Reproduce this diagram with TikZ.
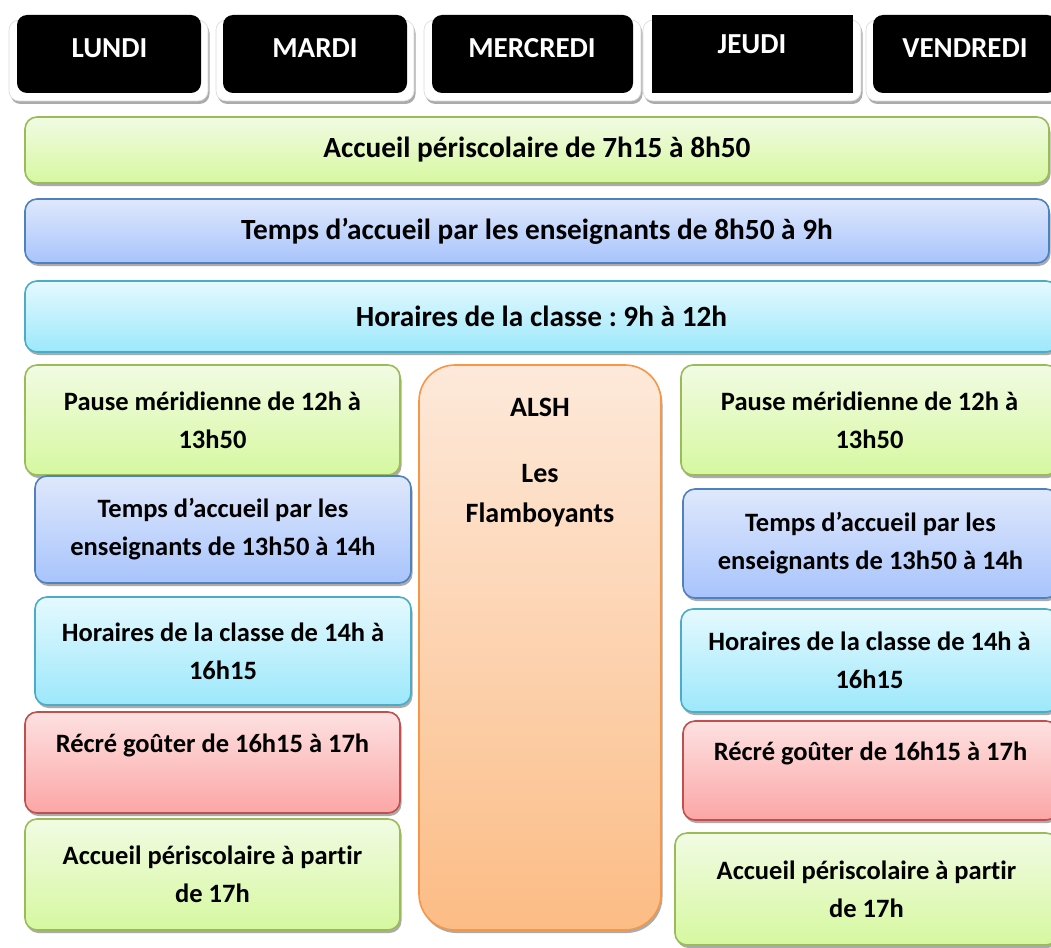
\documentclass[tikz,border=0pt]{standalone}
\usepackage{fontspec}
\setmainfont{Carlito}[Ligatures=NoCommon]
\usepackage{xcolor}
\usetikzlibrary{shadows}
\frenchspacing

\definecolor{grnline}{HTML}{9BBB59}
\definecolor{grntop}{HTML}{F1FBE3}
\definecolor{grnbot}{HTML}{D6F8A0}
\definecolor{bluline}{HTML}{4F81BD}
\definecolor{blutop}{HTML}{DFE8FC}
\definecolor{blubot}{HTML}{A8C4FC}
\definecolor{cyaline}{HTML}{4BACC6}
\definecolor{cyatop}{HTML}{E5F9FE}
\definecolor{cyabot}{HTML}{9CE8FB}
\definecolor{redline}{HTML}{C0504D}
\definecolor{redtop}{HTML}{FDE1E1}
\definecolor{redbot}{HTML}{FCA6A6}
\definecolor{orgline}{HTML}{F79646}
\definecolor{orgtop}{HTML}{FDE9DA}
\definecolor{orgbot}{HTML}{FCBC85}

\begin{document}
\begin{tikzpicture}[x=1pt,y=-1pt,
  shade/.style={drop shadow={shadow xshift=1.5pt, shadow yshift=-3pt, opacity=0.55, fill=black!60}},
  plate/.style={shade, rounded corners=10pt, fill=white, draw=black!15, line width=0.6pt, minimum height=81pt},
  daybox/.style={rounded corners=10pt, fill=black, minimum height=78pt},
  daytext/.style={text=white, font=\bfseries\fontsize{29}{34}\selectfont},
  box/.style={shade, rounded corners=12pt, line width=1.6pt, align=center, inner sep=0pt,
    font=\bfseries\fontsize{26.5}{38}\selectfont},
  bar/.style={box, font=\bfseries\fontsize{29.3}{34}\selectfont},
  green/.style={draw=grnline, top color=grntop, bottom color=grnbot},
  blue/.style={draw=bluline, top color=blutop, bottom color=blubot},
  cyan/.style={draw=cyaline, top color=cyatop, bottom color=cyabot},
  red/.style={draw=redline, top color=redtop, bottom color=redbot},
  orange/.style={draw=orgline, top color=orgtop, bottom color=orgbot}]
\useasboundingbox (0,0) rectangle (1051,947);
\clip (0,0) rectangle (1051,947);
% Days
\node[plate, minimum width=199pt] (lundiP) at (108.5,60.5) {};
\node[plate, minimum width=198pt] (mardiP) at (315,60.5) {};
\node[plate, minimum width=217pt] (mercrediP) at (532.5,60.5) {};
\node[plate, minimum width=218pt] (jeudiP) at (752,60.5) {};
\node[plate, minimum width=198pt] (vendrediP) at (965,60.5) {};
\node[daybox, minimum width=184pt] (lundi) at (109,54) {};
\node[daybox, minimum width=184pt] (mardi) at (315,54) {};
\node[daybox, minimum width=201pt] (mercredi) at (532.5,54) {};
\node[daybox, rounded corners=0pt, minimum width=201pt] (jeudi) at (752.5,54) {};
\node[daybox, minimum width=184pt] (vendredi) at (965,54) {};
\node[daytext] (lundiL) at (109.5,48) {LUNDI};
\node[daytext] (mardiL) at (315,48) {MARDI};
\node[daytext] (mercrediL) at (532,48) {MERCREDI};
\node[daytext] (jeudiL) at (752,44) {JEUDI};
\node[daytext] (vendrediL) at (965,48) {VENDREDI};
% Morning
\node[bar, green, minimum width=1024pt, minimum height=66pt] (periAM) at (537,150) {Accueil périscolaire de 7h15 à 8h50};
\node[bar, blue, minimum width=1024pt, minimum height=64pt] (accueilAM) at (537,231) {Temps d’accueil par les enseignants de 8h50 à 9h};
\node[bar, cyan, minimum width=1033pt, minimum height=71pt] (classeAM) at (541.5,316.5) {Horaires de la classe : 9h à 12h};
% Afternoon, left
\node[box, green, minimum width=375pt, minimum height=110pt] (pauseL) at (212.5,420) {Pause méridienne de 12h à\\13h50};
\node[box, blue, minimum width=376pt, minimum height=107pt] (accueilL) at (223,529.5) {Temps d’accueil par les\\enseignants de 13h50 à 14h};
\node[box, cyan, minimum width=376pt, minimum height=108pt] (classeL) at (223,651) {Horaires de la classe de 14h à\\16h15};
\node[box, red, minimum width=375pt, minimum height=101pt] (recreL) at (212.5,762.5) {Récré goûter de 16h15 à 17h\\\mbox{}};
\node[box, green, minimum width=375pt, minimum height=111pt] (periL) at (212.5,874.5) {Accueil périscolaire à partir\\de 17h};
% Wednesday
\node[box, orange, rounded corners=36pt, minimum width=242pt, minimum height=565pt] (alsh) at (540,647.5) {};
\node[font=\bfseries\fontsize{28}{40}\selectfont, align=center] (alshL) at (540,463) {ALSH\\[26pt]Les\\Flamboyants};
% Afternoon, right
\node[box, green, minimum width=377pt, minimum height=110pt] (pauseR) at (869.5,420) {Pause méridienne de 12h à\\13h50};
\node[box, blue, minimum width=375pt, minimum height=109pt] (accueilR) at (870.5,543.5) {Temps d’accueil par les\\enseignants de 13h50 à 14h};
\node[box, cyan, minimum width=377pt, minimum height=103pt] (classeR) at (869.5,660.5) {Horaires de la classe de 14h à\\16h15};
\node[box, red, minimum width=375pt, minimum height=99pt] (recreR) at (870.5,770.5) {Récré goûter de 16h15 à 17h\\\mbox{}};
\node[box, green, minimum width=383pt, minimum height=112pt] (periR) at (866.5,889) {Accueil périscolaire à partir\\de 17h};
\end{tikzpicture}
\end{document}
